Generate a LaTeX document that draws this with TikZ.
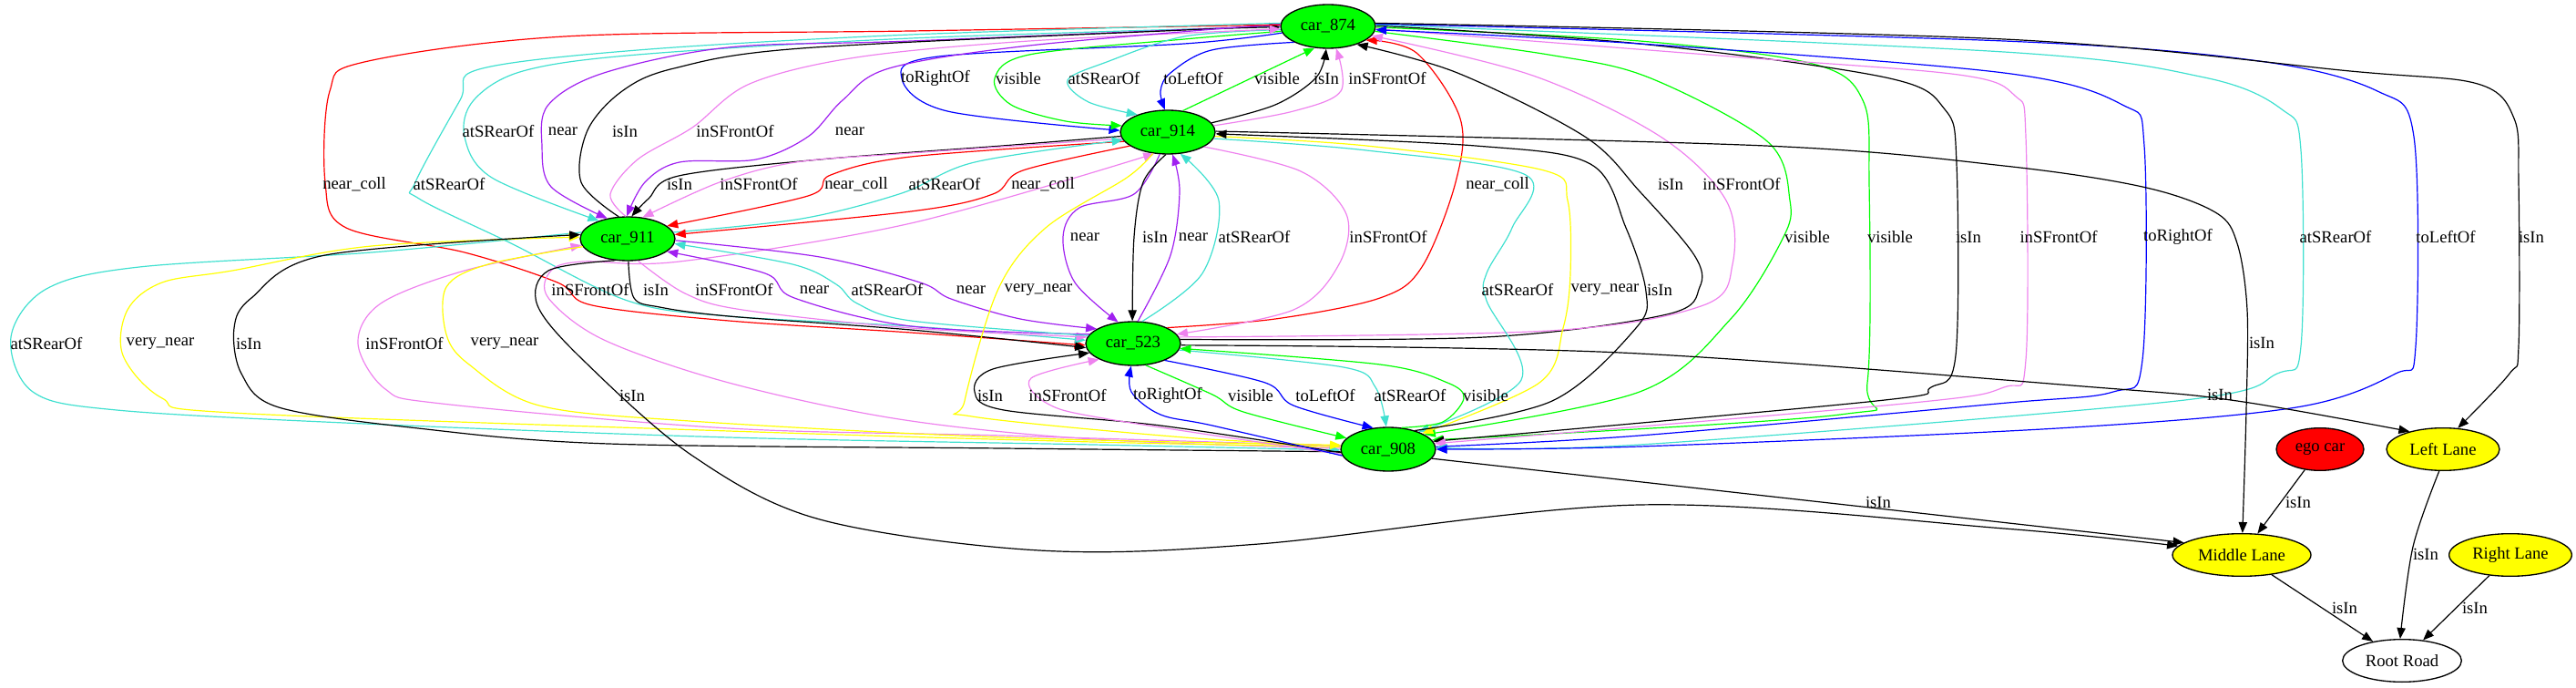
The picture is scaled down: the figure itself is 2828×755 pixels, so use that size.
\documentclass[tikz,border=0pt]{standalone}
\usepackage{fontspec}
\setmainfont{Liberation Serif}
\usetikzlibrary{shapes.geometric,arrows.meta}
\definecolor{cgreen}{HTML}{00FF00}
\definecolor{cred}{HTML}{FF0000}
\definecolor{cblue}{HTML}{0000FF}
\definecolor{ccyan}{HTML}{40E0D0}
\definecolor{cviolet}{HTML}{EE82EE}
\definecolor{cpurple}{HTML}{A020F0}
\definecolor{cyellow}{HTML}{FFFF00}
\tikzset{
  base/.style={ellipse, draw=black, line width=1pt, inner sep=0pt, minimum height=35pt, font=\fontsize{14}{16}\selectfont},
  carnode/.style={base, fill=cgreen, minimum width=78pt, minimum height=36pt},
  lanenode/.style={base, fill=cyellow},
  egonode/.style={base, fill=cred, minimum width=72pt},
  roadnode/.style={base, fill=white, minimum width=98pt},
  edg/.style={line width=0.9pt, -{Triangle[length=9pt,width=7pt]}},
  lbl/.style={font=\fontsize{14}{16}\selectfont, inner sep=0pt},
  sm/.style={smooth, tension=0.55}
}
\begin{document}
\begin{tikzpicture}[x=0.75pt, y=-0.75pt]
\useasboundingbox (0,0) rectangle (2828,755);
% nodes
\node[carnode] (n874) at (1458,29) {car\_874};
\node[carnode] (n914) at (1282,145) {car\_914};
\node[carnode] (n911) at (689,262) {car\_911};
\node[carnode] (n523) at (1244,377) {car\_523};
\node[carnode] (n908) at (1524,493) {car\_908};
\node[egonode] (ego) at (2547,493) {ego car};
\node[lanenode, minimum width=93pt] (left) at (2682,493) {Left Lane};
\node[lanenode, minimum width=114pt] (middle) at (2461,609) {Middle Lane};
\node[lanenode, minimum width=101pt] (right) at (2756,609) {Right Lane};
\node[roadnode] (root) at (2637,725) {Root Road};

% edges car_874 <-> car_914
\draw[edg, cblue] plot[sm] coordinates {(n874.188) (1300,48) (1030,62) (990,86) (1040,122) (n914.178)};
\draw[edg, cgreen] plot[sm] coordinates {(n874.186) (1300,43) (1130,60) (1092,86) (1110,115) (1170,133) (n914.172)};
\draw[edg, ccyan] plot[sm] coordinates {(n874.184) (1300,40) (1215,68) (1172,88) (1195,112) (n914.150)};
\draw[edg, cblue] plot[sm] coordinates {(n874.205) (1330,55) (1285,80) (1274,100) (n914.97)};
\draw[edg, cgreen] (n914.55) -- (n874.238);
\draw[edg, black] plot[sm] coordinates {(n914.12) (1400,115) (1445,85) (n874.265)};
\draw[edg, cviolet] plot[sm] coordinates {(n914.8) (1420,122) (1472,100) (n874.-70)};

% car_874 <-> car_911
\draw[edg, ccyan] plot[sm] coordinates {(n874.180) (1000,42) (700,60) (574,78) (520,110) (510,150) (540,195) (n911.148)};
\draw[edg, cpurple] plot[sm] coordinates {(n874.179) (1000,45) (800,52) (663,80) (602,115) (595,160) (605,205) (n911.135)};
\draw[edg, black] plot[sm] coordinates {(n911.112) (638,200) (645,143) (683,100) (740,75) (880,53) (1300,33) (n874.181)};
\draw[edg, cviolet] plot[sm] coordinates {(n911.95) (670,213) (700,175) (760,140) (823,92) (940,63) (1130,45) (n874.183)};
\draw[edg, cpurple] plot[sm] coordinates {(n874.177) (1130,50) (976,75) (925,110) (887,150) (830,175) (746,178) (708,200) (n911.92)};

% car_874 -> car_523 far left
\draw[edg, cred] plot[sm] coordinates {(n874.178) (1000,34) (620,40) (400,68) (362,100) (357,200) (380,250) (510,277) (612,310) (650,335) (800,352) (1000,365) (n523.182)};
\draw[edg, ccyan] plot[sm] coordinates {(n874.176) (1000,38) (700,55) (526,76) (505,110) (456,200) (460,218) (561,267) (689,330) (800,347) (1000,358) (n523.176)};

% car_914 <-> car_911
\draw[edg, black] plot[sm] coordinates {(n914.185) (1100,160) (900,175) (745,193) (712,218) (n911.80)};
\draw[edg, cviolet] plot[sm] coordinates {(n914.188) (1000,168) (874,178) (790,200) (n911.55)};
\draw[edg, cred] plot[sm] coordinates {(n914.192) (1000,172) (912,192) (887,215) (n911.18)};
\draw[edg, ccyan] plot[sm] coordinates {(n911.8) (880,240) (990,212) (1070,178) (n914.190)};
\draw[edg, cred] plot[sm] coordinates {(n914.200) (1123,187) (1090,213) (1000,232) (n911.5)};

% car_523 -> car_874 right
\draw[edg, cred] plot[sm] coordinates {(n523.25) (1400,350) (1515,327) (1561,293) (1598,200) (1603,130) (1555,58) (n874.-20)};
\draw[edg, black] plot[sm] coordinates {(n523.5) (1630,370) (1830,345) (1866,315) (1860,280) (1800,210) (1740,150) (1600,80) (n874.-32)};
\draw[edg, cviolet] plot[sm] coordinates {(n523.8) (1700,363) (1870,335) (1902,290) (1895,220) (1823,150) (1683,83) (n874.-12)};

% car_914 <-> car_523
\draw[edg, cpurple] plot[sm] coordinates {(n914.250) (1245,213) (1185,228) (1167,260) (1180,310) (n523.125)};
\draw[edg, black] plot[sm] coordinates {(n914.265) (1255,200) (1245,260) (n523.92)};
\draw[edg, cpurple] plot[sm] coordinates {(n523.78) (1285,280) (1295,210) (n914.-78)};
\draw[edg, ccyan] plot[sm] coordinates {(n523.68) (1320,300) (1338,220) (n914.-60)};
\draw[edg, cviolet] plot[sm] coordinates {(n914.-22) (1428,188) (1478,235) (1470,290) (1420,340) (n523.12)};

% car_874 <-> car_908 right loops
\draw[edg, cgreen] plot[sm] coordinates {(n874.-6) (1700,60) (1810,85) (1940,155) (1965,220) (1957,262) (1900,350) (1800,430) (n908.22)};
\draw[edg, cgreen] plot[sm] coordinates {(n874.-1) (1800,45) (1990,70) (2045,110) (2052,200) (2050,420) (2020,455) (n908.12)};
\draw[edg, black] plot[sm] coordinates {(n874.1) (1800,48) (2070,85) (2135,120) (2148,180) (2147,390) (2120,425) (2060,440) (n908.10)};
\draw[edg, cviolet] plot[sm] coordinates {(n874.-3) (1900,62) (2150,82) (2212,105) (2224,150) (2224,395) (2200,425) (2090,443) (n908.7)};
\draw[edg, cblue] plot[sm] coordinates {(n908.3) (1800,478) (2193,443) (2320,430) (2352,395) (2354,160) (2330,115) (2200,80) (1800,48) (n874.-4)};
\draw[edg, ccyan] plot[sm] coordinates {(n874.2) (2200,57) (2420,85) (2505,120) (2526,165) (2526,380) (2500,410) (2390,440) (1800,488) (n908.2)};
\draw[edg, cblue] plot[sm] coordinates {(n874.3) (2200,45) (2480,67) (2610,100) (2650,150) (2652,380) (2630,410) (2521,447) (2259,470) (1800,490) (n908.0)};
\draw[edg, black] plot[sm] coordinates {(n874.4) (2200,43) (2580,78) (2720,92) (2760,130) (2765,200) (2765,380) (2755,410) (left.55)};

% car_908 -> car_914 loop under car_911
\draw[edg, cviolet] plot[sm] coordinates {(n908.179) (1200,482) (987,460) (800,420) (663,373) (602,327) (605,297) (640,287) (746,287) (1000,245) (n914.238)};

% car_911 <-> car_523
\draw[edg, black] plot[sm] coordinates {(n911.-88) (696,327) (724,337) (800,347) (1000,362) (n523.185)};
\draw[edg, cviolet] plot[sm] coordinates {(n911.-65) (752,322) (815,340) (1000,360) (n523.172)};
\draw[edg, cpurple] plot[sm] coordinates {(n523.168) (1000,358) (872,327) (840,300) (n911.-18)};
\draw[edg, ccyan] plot[sm] coordinates {(n523.170) (1000,352) (941,333) (918,312) (870,290) (n911.-6)};
\draw[edg, cpurple] plot[sm] coordinates {(n911.-2) (900,282) (1010,310) (1044,328) (1120,350) (n523.158)};

% car_914 -> car_908
\draw[edg, cyellow] plot[sm] coordinates {(n914.235) (1237,195) (1148,250) (1096,317) (1059,440) (1067,457) (1300,480) (n908.176)};
\draw[edg, ccyan] plot[sm] coordinates {(n914.-8) (1500,165) (1675,192) (1660,250) (1632,300) (1632,330) (1670,417) (n908.30)};
\draw[edg, cyellow] plot[sm] coordinates {(n914.-5) (1500,160) (1695,187) (1721,220) (1724,300) (1716,360) (1690,420) (n908.25)};
\draw[edg, black] plot[sm] coordinates {(n908.35) (1704,440) (1796,360) (1807,320) (1785,250) (1746,180) (1620,160) (n914.-2)};

% lanes
\draw[edg, black] plot[sm] coordinates {(n914.1) (1938,160) (2200,182) (2352,205) (2432,233) (2456,267) (2467,340) (2466,450) (middle.88)};
\draw[edg, black] plot[sm] coordinates {(n523.-2) (1779,387) (2300,425) (2456,440) (left.152)};

% far-left loops car_911 <-> car_908
\draw[edg, ccyan] plot[sm] coordinates {(n911.172) (408,277) (153,293) (51,317) (12,370) (36,430) (128,450) (400,465) (800,480) (1200,488) (n908.181)};
\draw[edg, cyellow] plot[sm] coordinates {(n908.177) (1200,485) (800,473) (255,453) (178,437) (135,390) (140,340) (178,310) (255,297) (408,270) (n911.178)};
\draw[edg, black] plot[sm] coordinates {(n908.183) (1100,492) (668,487) (459,470) (306,447) (265,410) (257,360) (276,327) (357,280) (n911.175)};
\draw[edg, cviolet] plot[sm] coordinates {(n908.176) (1100,478) (800,470) (485,443) (423,427) (393,377) (418,333) (510,297) (n911.188)};
\draw[edg, cyellow] plot[sm] coordinates {(n911.190) (536,290) (490,315) (490,367) (515,400) (592,445) (757,462) (1100,480) (n908.175)};
\draw[edg, black] plot[sm] coordinates {(n911.240) (602,297) (590,335) (640,395) (760,500) (900,570) (1141,604) (1382,597) (1800,554) (2200,580) (middle.172)};

% car_908 <-> car_523
\draw[edg, black] plot[sm] coordinates {(n908.184) (1274,467) (1102,450) (1070,430) (1090,405) (n523.192)};
\draw[edg, cviolet] plot[sm] coordinates {(n908.186) (1217,460) (1150,443) (1132,415) (n523.205)};
\draw[edg, cblue] plot[sm] coordinates {(n908.188) (1331,467) (1274,455) (1242,430) (n523.265)};
\draw[edg, cgreen] plot[sm] coordinates {(n523.-60) (1331,433) (1365,452) (n908.165)};
\draw[edg, cblue] plot[sm] coordinates {(n523.-28) (1389,420) (1420,445) (n908.125)};
\draw[edg, ccyan] plot[sm] coordinates {(n523.-8) (1475,403) (1510,425) (n908.95)};
\draw[edg, cgreen] plot[sm] coordinates {(n908.58) (1584,463) (1607,437) (1589,420) (1515,400) (n523.-6)};

% bottom right
\draw[edg, black] (n908.-12) -- (middle.168);
\draw[edg, black] (ego) -- (middle);
\draw[edg, black] plot[sm] coordinates {(left.-100) (2649,600) (root.95)};
\draw[edg, black] (middle) -- (root);
\draw[edg, black] (right) -- (root);

% labels
\node[lbl] (l1) at (1027,86) {toRightOf};
\node[lbl] (l2) at (1118,86) {visible};
\node[lbl] (l3) at (1212,86) {atSRearOf};
\node[lbl] (l4) at (1310,86) {toLeftOf};
\node[lbl] (l5) at (1402,86) {visible};
\node[lbl] (l6) at (1456,86) {isIn};
\node[lbl] (l7) at (1523,86) {inSFrontOf};
\node[lbl] (l8) at (547,144) {atSRearOf};
\node[lbl] (l9) at (618,144) {near};
\node[lbl] (l10) at (686,144) {isIn};
\node[lbl] (l11) at (807,144) {inSFrontOf};
\node[lbl] (l12) at (933,144) {near};
\node[lbl] (l13) at (389,202) {near\_coll};
\node[lbl] (l14) at (493,202) {atSRearOf};
\node[lbl] (l15) at (746,202) {isIn};
\node[lbl] (l16) at (833,202) {inSFrontOf};
\node[lbl] (l17) at (940,202) {near\_coll};
\node[lbl] (l18) at (1037,202) {atSRearOf};
\node[lbl] (l19) at (1145,202) {near\_coll};
\node[lbl] (l20) at (1644,202) {near\_coll};
\node[lbl] (l21) at (1834,202) {isIn};
\node[lbl] (l22) at (1912,202) {inSFrontOf};
\node[lbl] (l23) at (1191,260) {near};
\node[lbl] (l24) at (1268,260) {isIn};
\node[lbl] (l25) at (1310,260) {near};
\node[lbl] (l26) at (1377,260) {atSRearOf};
\node[lbl] (l27) at (1524,260) {inSFrontOf};
\node[lbl] (l28) at (1984,260) {visible};
\node[lbl] (l29) at (2075,260) {visible};
\node[lbl] (l30) at (2161,260) {isIn};
\node[lbl] (l31) at (2260,260) {inSFrontOf};
\node[lbl] (l32) at (2391,260) {toRightOf};
\node[lbl] (l33) at (2564,260) {atSRearOf};
\node[lbl] (l34) at (2685,260) {toLeftOf};
\node[lbl] (l35) at (2779,260) {isIn};
\node[lbl] (l36) at (648,318) {inSFrontOf};
\node[lbl] (l37) at (720,318) {isIn};
\node[lbl] (l38) at (806,318) {inSFrontOf};
\node[lbl] (l39) at (894,318) {near};
\node[lbl] (l40) at (974,318) {atSRearOf};
\node[lbl] (l41) at (1066,318) {near};
\node[lbl] (l42) at (1140,318) {very\_near};
\node[lbl] (l43) at (1666,318) {atSRearOf};
\node[lbl] (l44) at (1762,318) {very\_near};
\node[lbl] (l45) at (1822,318) {isIn};
\node[lbl] (l46) at (2483,376) {isIn};
\node[lbl] (l47) at (2437,433) {isIn};
\node[lbl] (l48) at (51,377) {atSRearOf};
\node[lbl] (l49) at (176,377) {very\_near};
\node[lbl] (l50) at (273,377) {isIn};
\node[lbl] (l51) at (444,377) {inSFrontOf};
\node[lbl] (l52) at (554,377) {very\_near};
\node[lbl] (l53) at (694,434) {isIn};
\node[lbl] (l54) at (1087,434) {isIn};
\node[lbl] (l55) at (1172,434) {inSFrontOf};
\node[lbl] (l56) at (1282,434) {toRightOf};
\node[lbl] (l57) at (1373,434) {visible};
\node[lbl] (l58) at (1455,434) {toLeftOf};
\node[lbl] (l59) at (1548,434) {atSRearOf};
\node[lbl] (l60) at (1631,434) {visible};
\node[lbl] (l61) at (2062,551) {isIn};
\node[lbl] (l62) at (2523,551) {isIn};
\node[lbl] (l63) at (2663,608) {isIn};
\node[lbl] (l64) at (2574,667) {isIn};
\node[lbl] (l65) at (2717,667) {isIn};
\end{tikzpicture}
\end{document}
